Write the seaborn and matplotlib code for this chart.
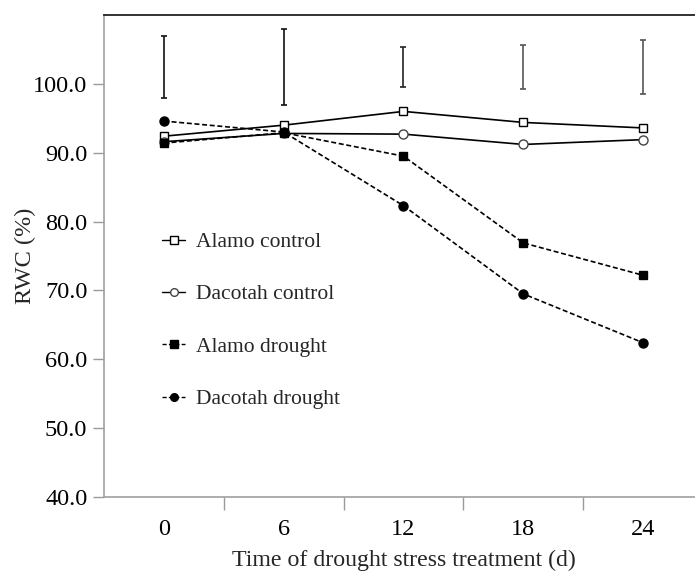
import matplotlib
matplotlib.use("Agg")
import matplotlib.pyplot as plt
from matplotlib.ticker import FixedLocator, FormatStrFormatter
import seaborn as sns
import pandas as pd
import numpy as np

days = ["0", "6", "12", "18", "24"]
alamo_control = [92.4, 94.0, 96.0, 94.4, 93.6]
dacotah_control = [91.6, 92.8, 92.7, 91.2, 91.9]
alamo_drought = [91.4, 92.9, 89.5, 76.9, 72.2]
dacotah_drought = [94.6, 93.0, 82.3, 69.5, 62.4]
bar_low = [97.9, 97.0, 99.6, 99.3, 98.5]
bar_high = [107.0, 107.9, 105.3, 105.6, 106.4]
bar_colors = ["#111111", "#111111", "#222222", "#555555", "#555555"]

series_names = ["Alamo control", "Dacotah control", "Alamo drought", "Dacotah drought"]
series_vals = [alamo_control, dacotah_control, alamo_drought, dacotah_drought]

sns.set_theme(style="white")
plt.rcParams['font.family'] = ['Liberation Serif', 'DejaVu Serif']

fig = plt.figure(figsize=(6.95, 5.76), dpi=100)
ax = fig.add_axes([104/695, 79/576, 599/695, 482/576])

styles = {
    "Alamo control": dict(marker="s", ls="-", mfc="white", mec="black", ms=6.3),
    "Dacotah control": dict(marker="o", ls="-", mfc="white", mec="#444444", ms=6.5),
    "Alamo drought": dict(marker="s", ls=(0, (3, 1.6)), mfc="black", mec="black", ms=6.3),
    "Dacotah drought": dict(marker="o", ls=(0, (3, 1.6)), mfc="black", mec="black", ms=6.5),
}

for name, vals in zip(series_names, series_vals):
    df = pd.DataFrame({"day": days, "rwc": vals})
    st = styles[name]
    sns.lineplot(data=df, x="day", y="rwc", ax=ax, color="black", lw=1.2,
                 linestyle=st["ls"], marker=st["marker"], markersize=st["ms"],
                 markerfacecolor=st["mfc"], markeredgecolor=st["mec"],
                 markeredgewidth=1.0, sort=False, label=name)

xpos = np.arange(len(days))
low = np.array(bar_low)
high = np.array(bar_high)
for i in range(len(days)):
    ax.errorbar([xpos[i]], [(low[i] + high[i]) / 2], yerr=[(high[i] - low[i]) / 2],
                fmt="none", ecolor=bar_colors[i], elinewidth=1.2, capsize=2.5, capthick=1.2)

ax.set_xlim(-0.5, 4.5)
ax.set_ylim(40, 110)
ax.set_yticks([40, 50, 60, 70, 80, 90, 100])
ax.yaxis.set_major_formatter(FormatStrFormatter("%.1f"))
ax.set_xticks(xpos)
ax.set_xticklabels(days)
ax.xaxis.set_minor_locator(FixedLocator([0.5, 1.5, 2.5, 3.5]))

ax.tick_params(axis="x", which="major", length=0, pad=16, labelsize=17.5, colors="black")
ax.tick_params(axis="x", which="minor", length=9, width=1, color="#999999", direction="out", bottom=True)
ax.tick_params(axis="y", which="major", length=8, width=1, color="#999999", direction="out",
               pad=4, labelsize=17.5, left=True, labelcolor="black")

for s in ["left", "bottom"]:
    ax.spines[s].set_color("#a0a0a0")
    ax.spines[s].set_linewidth(1.2)
ax.spines["top"].set_color("#222222")
ax.spines["top"].set_linewidth(1.3)
ax.spines["right"].set_visible(False)

ax.set_xlabel("Time of drought stress treatment (d)", fontsize=17.2, labelpad=7)
ax.set_ylabel("RWC (%)", fontsize=17.5, labelpad=-2)

leg = ax.legend(loc="upper left", bbox_to_anchor=(0.065, 0.59), frameon=False,
                fontsize=15.5, handlelength=1.05, handletextpad=0.5, labelspacing=1.5,
                markerscale=0.85)
for h in leg.legend_handles:
    h.set_linewidth(1.0)

fig.savefig("out.png", dpi=100)
